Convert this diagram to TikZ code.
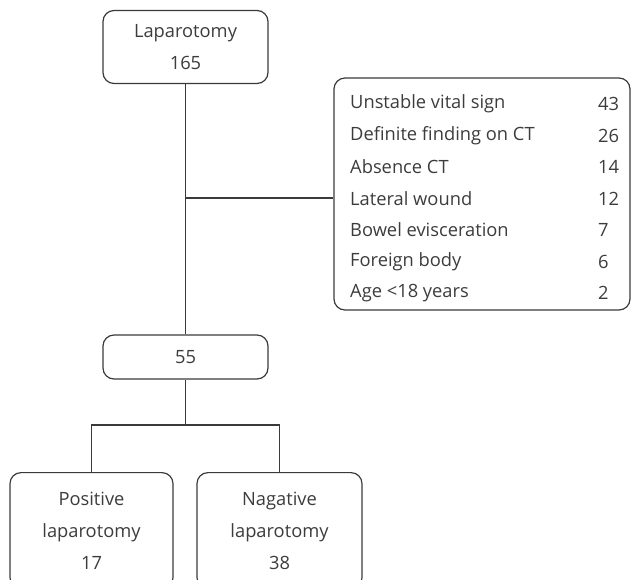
\documentclass[tikz,border=0pt]{standalone}
\usepackage{fontspec}
\setmainfont{Open Sans}
\definecolor{linegray}{HTML}{3A3A3A}
\definecolor{txtgray}{HTML}{3C3C3C}

\begin{document}
\begin{tikzpicture}[x=1pt,y=-1pt,
  font=\fontsize{18.3}{32}\selectfont,
  flowbox/.style={draw=linegray,line width=1.2pt,rounded corners=11pt,align=center,inner sep=0pt,text=txtgray},
  rowtext/.style={anchor=west,inner sep=0pt,text=txtgray},
  link/.style={draw=linegray,line width=1.2pt}]
  \useasboundingbox (0,0) rectangle (631,579);
  \clip (0,0) rectangle (631,579);

  \node[flowbox,minimum width=165pt,minimum height=73pt] (lap) at (185.5,47) {Laparotomy\\165};
  \node[flowbox,minimum width=296pt,minimum height=232pt] (reasons) at (482,194) {};
  \foreach \lbl/\num [count=\i from 0] in {Unstable vital sign/43,Definite finding on CT/26,Absence CT/14,Lateral wound/12,Bowel evisceration/7,Foreign body/6,Age <18 years/2}
  {
    \node[rowtext] (lbl\i) at (350,{104+31.5*\i}) {\lbl};
    \node[rowtext] (num\i) at (598,{104+31.5*\i}) {\num};
  }
  \node[flowbox,minimum width=165pt,minimum height=44pt] (n55) at (185.5,357) {55};
  \node[flowbox,minimum width=163pt,minimum height=116pt,anchor=north] (pos) at (91.5,472) {Positive\\laparotomy\\17};
  \node[flowbox,minimum width=165pt,minimum height=116pt,anchor=north] (neg) at (279.5,472) {Nagative\\laparotomy\\38};

  \coordinate (cross) at (185.5,198);
  \coordinate (split) at (185.5,425);
  \draw[link] (lap) -- (n55);
  \draw[link] (cross) -- (cross -| reasons.west);
  \draw[link] (n55) -- (split);
  \draw[link] (pos.north) |- (split) -| (neg.north);
\end{tikzpicture}
\end{document}
